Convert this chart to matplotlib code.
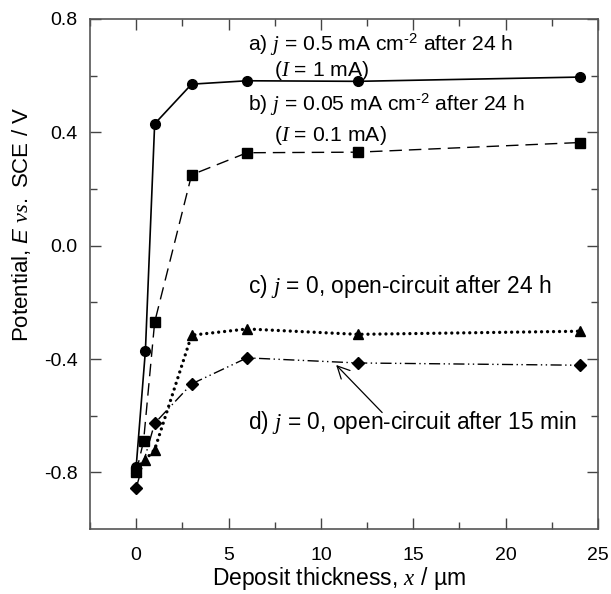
import matplotlib
matplotlib.use("Agg")
import matplotlib.pyplot as plt
from matplotlib.ticker import MultipleLocator, FixedLocator

plt.rcParams['font.family'] = ['Liberation Sans', 'DejaVu Sans']
plt.rcParams['mathtext.fontset'] = 'custom'
plt.rcParams['mathtext.rm'] = 'Liberation Sans'
plt.rcParams['mathtext.it'] = 'Liberation Serif:italic'
plt.rcParams['mathtext.sf'] = 'Liberation Sans:italic'
plt.rcParams['axes.unicode_minus'] = False
plt.rcParams['lines.scale_dashes'] = False

# Data
x_a = [0, 0.5, 1, 3, 6, 12, 24]
y_a = [-0.78, -0.37, 0.43, 0.57, 0.582, 0.58, 0.595]
x_b = [0, 0.4, 1, 3, 6, 12, 24]
y_b = [-0.80, -0.69, -0.27, 0.25, 0.328, 0.33, 0.364]
x_c = [0, 0.5, 1, 3, 6, 12, 24]
y_c = [-0.785, -0.755, -0.72, -0.316, -0.294, -0.313, -0.302]
x_d = [0, 1, 3, 6, 12, 24]
y_d = [-0.855, -0.627, -0.488, -0.396, -0.414, -0.422]

fig = plt.figure(figsize=(6.11, 5.94), dpi=100)
ax = fig.add_axes([90/611, 65/594, 508/611, 510/594])

ax.plot(x_a, y_a, color='black', lw=1.2, marker='o', ms=7, linestyle='-')
ax.plot(x_b, y_b, color='black', lw=1.0, marker='s', ms=6.5, dashes=(9, 5))
ax.plot(x_c, y_c, color='black', lw=2.4, marker='^', ms=7.5,
        dashes=(0.01, 4.3), dash_capstyle='round')
ax.plot(x_d, y_d, color='black', lw=1.0, marker='D', ms=6.5,
        dashes=(8, 2.5, 1, 2.5, 1, 2.5))

ax.set_xlim(-2.5, 25)
ax.set_ylim(-1.0, 0.8)
ax.xaxis.set_major_locator(FixedLocator([0, 5, 10, 15, 20, 25]))
ax.xaxis.set_minor_locator(MultipleLocator(2.5))
ax.yaxis.set_major_locator(FixedLocator([-0.8, -0.4, 0.0, 0.4, 0.8]))
ax.yaxis.set_minor_locator(FixedLocator([-0.6, -0.2, 0.2, 0.6]))
ax.set_yticklabels(['-0.8', '-0.4', '0.0', '0.4', '0.8'])
ax.tick_params(which='both', direction='in', top=True, right=True,
               labelsize=14, color='#444444')
ax.tick_params(which='major', length=8, width=1)
ax.tick_params(which='minor', length=5, width=1)
ax.tick_params(axis='y', which='major', pad=9)
ax.tick_params(axis='x', which='major', pad=13)
for s in ax.spines.values():
    s.set_color('#555555')
    s.set_linewidth(1.2)

fs_ab = 15.2
fs_cd = 16.4
ax.text(6.05, 0.709, r"a) $j$ = 0.5 mA cm$^{\text{-2}}$ after 24 h", fontsize=fs_ab, va='center')
ax.text(7.45, 0.62, r"($I$ = 1 mA)", fontsize=fs_ab, va='center')
ax.text(6.05, 0.497, r"b) $j$ = 0.05 mA cm$^{\text{-2}}$ after 24 h", fontsize=fs_ab, va='center')
ax.text(7.45, 0.39, r"($I$ = 0.1 mA)", fontsize=fs_ab, va='center')
ax.text(6.05, -0.145, r"c) $j$ = 0, open-circuit after 24 h", fontsize=fs_cd, va='center')
ax.text(6.05, -0.624, r"d) $j$ = 0, open-circuit after 15 min", fontsize=fs_cd, va='center')
ax.annotate('', xy=(10.72, -0.414), xytext=(13.42, -0.596),
            arrowprops=dict(arrowstyle='->', color='black', lw=0.9,
                            mutation_scale=22))

fig.text(22/611, 1 - 224/594, r"Potential, $\mathsf{E}$ $vs.$ SCE / V", rotation=90,
         fontsize=16, ha='center', va='center')
fig.text(339/611, 1 - 579/594, r"Deposit thickness, $x$ / µm", fontsize=16.5,
         ha='center', va='center')

fig.savefig('out.png', dpi=100)
